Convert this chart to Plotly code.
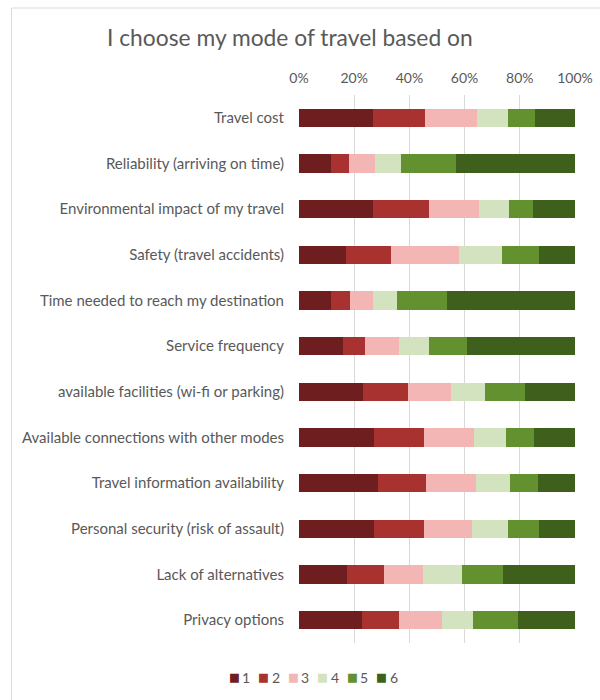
import plotly.graph_objects as go

categories = [
    "Travel cost",
    "Reliability (arriving on time)",
    "Environmental impact of my travel",
    "Safety (travel accidents)",
    "Time needed to reach my destination",
    "Service frequency",
    "available facilities (wi-fi or parking)",
    "Available connections with other modes",
    "Travel information availability",
    "Personal security (risk of assault)",
    "Lack of alternatives",
    "Privacy options",
]

s1 = [26.7, 11.7, 26.7, 17.0, 11.7, 15.8, 23.2, 27.2, 28.7, 27.2, 17.4, 22.9]
s2 = [18.8, 6.3, 20.3, 16.2, 6.9, 8.1, 16.2, 18.0, 17.4, 18.0, 13.3, 13.3]
s3 = [19.1, 9.7, 18.2, 24.8, 8.2, 12.3, 15.7, 18.1, 18.2, 17.5, 14.2, 15.5]
s4 = [11.1, 9.1, 10.8, 15.6, 8.8, 10.8, 12.3, 11.6, 12.0, 13.0, 14.2, 11.3]
s5 = [9.7, 20.1, 8.7, 13.2, 17.9, 13.9, 14.5, 10.1, 10.3, 11.1, 14.8, 16.2]
s6 = [14.6, 43.1, 15.3, 13.2, 46.5, 39.1, 18.1, 15.0, 13.4, 13.2, 26.1, 20.8]

series_names = ["1", "2", "3", "4", "5", "6"]
series_values = [s1, s2, s3, s4, s5, s6]
colors = ["#6E1E1E", "#A8322F", "#F4B6B5", "#D3E3BF", "#63912F", "#3F5F1C"]

tick_vals = [0, 20, 40, 60, 80, 100]
tick_text = ["0%", "20%", "40%", "60%", "80%", "100%"]

FONT = "Lato"
GREY = "#595959"

fig = go.Figure()
for name, vals, col in zip(series_names, series_values, colors):
    fig.add_trace(go.Bar(
        y=categories, x=vals, name=name, orientation="h",
        marker=dict(color=col, line=dict(width=0)),
        showlegend=False,
    ))

# legend drawn as text: coloured square glyph + series name
L, PW = 299, 276
leg_y = -(677 - 643) / 548
annotations = []
for i, (n, c) in enumerate(zip(series_names, colors)):
    sx = 234.0 + i * 29.5
    annotations.append(dict(
        text="■", xref="paper", yref="paper", x=(sx - L) / PW, y=leg_y,
        xanchor="center", yanchor="middle", showarrow=False,
        font=dict(family="DejaVu Sans", size=11.5, color=c),
    ))
    annotations.append(dict(
        text=n, xref="paper", yref="paper", x=(sx + 12.2 - L) / PW, y=leg_y,
        xanchor="center", yanchor="middle", showarrow=False,
        font=dict(family=FONT, size=14, color=GREY),
    ))

fig.update_layout(
    width=600, height=700, autosize=False,
    barmode="stack", barnorm="percent",
    bargap=0.6,
    paper_bgcolor="white", plot_bgcolor="white",
    margin=dict(l=299, r=25, t=95, b=57),
    font=dict(family=FONT, size=15, color=GREY),
    title=dict(
        text="I choose my mode of travel based on",
        x=107/600, xanchor="left", xref="container",
        y=1-38/700, yanchor="middle", yref="container",
        font=dict(family=FONT, size=22.8, color=GREY),
    ),
    xaxis=dict(
        side="top", range=[0, 100], tickvals=tick_vals, ticktext=tick_text,
        showgrid=True, gridcolor="#D9D9D9", gridwidth=1,
        zeroline=False, showline=False, ticks="",
        tickfont=dict(size=14, color=GREY), ticklabelstandoff=8,
        fixedrange=True, automargin=False,
    ),
    yaxis=dict(
        autorange="reversed", showgrid=False, zeroline=False, showline=False,
        ticks="", ticklabelstandoff=14, automargin=False,
        tickfont=dict(size=15, color=GREY),
    ),
    annotations=annotations,
    shapes=[dict(
        type="rect", xref="paper", yref="paper",
        x0=(11.5-299)/276, x1=(640-299)/276,
        y0=-1, y1=(643-8)/548,
        line=dict(color="#D9D9D9", width=1), fillcolor="rgba(0,0,0,0)",
        layer="below",
    )],
)

fig.write_html("out.html", post_script="document.body.style.margin='0';",
               config={"displayModeBar": False})
